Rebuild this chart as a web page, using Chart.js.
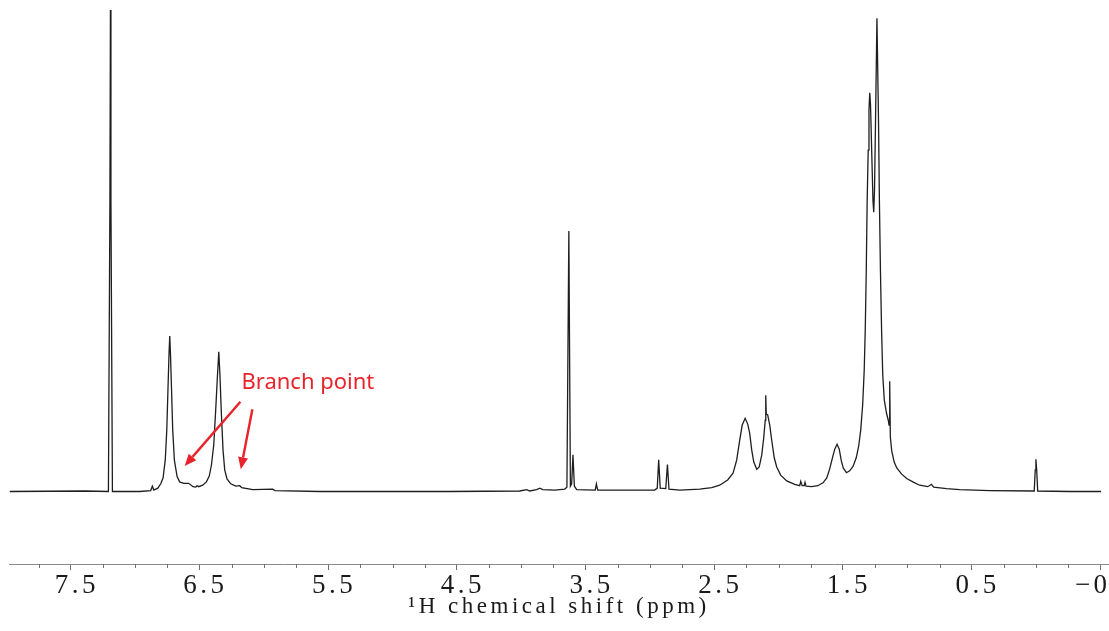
<!DOCTYPE html>
<html>
<head>
<meta charset="utf-8">
<script src="https://cdn.jsdelivr.net/npm/chart.js@4.4.1/dist/chart.umd.min.js"></script>
<style>
  html, body { margin: 0; padding: 0; background: #ffffff; }
  #wrap { width: 1109px; height: 631px; position: relative; }
</style>
</head>
<body>
<div id="wrap"><canvas id="c"></canvas></div>
<script>
// ---- spectrum (chemical shift in ppm, relative intensity; tallest peak = 100) ----
const spectrumPpm = [
  7.974, 7.392, 7.2075, 7.1958, 7.1919, 7.1880, 7.1764,
  6.964, 6.879, 6.866, 6.855, 6.824, 6.801, 6.783, 6.766, 6.754, 6.745, 6.737,
  6.731, 6.725, 6.717, 6.708, 6.695, 6.674, 6.654, 6.622, 6.584, 6.550, 6.529,
  6.519, 6.506, 6.475, 6.446, 6.424, 6.407, 6.389, 6.374, 6.360, 6.350, 6.341,
  6.331, 6.317, 6.304, 6.286, 6.257, 6.218, 6.187, 6.172, 6.086, 5.931, 5.915,
  5.566, 4.556, 4.012, 3.957, 3.934, 3.880, 3.856, 3.833, 3.740, 3.662, 3.645,
  3.630, 3.618, 3.608, 3.598, 3.587, 3.569, 3.425, 3.416, 3.406,
  2.963, 2.943, 2.932, 2.920, 2.877, 2.864, 2.852, 2.768, 2.613, 2.520, 2.458,
  2.396, 2.354, 2.326, 2.302, 2.283, 2.260, 2.240, 2.225, 2.209, 2.193, 2.170,
  2.151, 2.131, 2.116, 2.104, 2.100, 2.096, 2.085, 2.069, 2.054, 2.034, 2.015,
  1.984, 1.937, 1.875, 1.836, 1.828, 1.817, 1.801, 1.795, 1.787, 1.743, 1.696,
  1.655, 1.626, 1.603, 1.580, 1.564, 1.546, 1.529, 1.514, 1.498, 1.473, 1.448,
  1.422, 1.397, 1.378, 1.362, 1.347, 1.335, 1.327, 1.319, 1.312, 1.304, 1.298,
  1.292, 1.286, 1.277, 1.267, 1.261, 1.255, 1.247, 1.236, 1.224,
  1.217, 1.209, 1.200, 1.191, 1.179, 1.162, 1.148, 1.142, 1.137, 1.132, 1.121,
  1.102, 1.082, 1.044, 1.005, 0.950, 0.904, 0.841, 0.813, 0.795, 0.696, 0.593,
  0.360, 0.014, 0.006, 0.001, -0.005, -0.013, -0.262, -0.505
];
const spectrumIntensity = [
  0, 0.1, 0, 60.5, 100, 60.5, 0,
  0, 0.2, 1.1, 0.3, 0.7, 1.6, 2.8, 6.5, 12.8, 21.1, 28.3,
  32.3, 28.3, 21.1, 12.8, 6.5, 3.1, 2.0, 1.7, 1.7, 1.0, 0.9,
  1.2, 1.0, 1.3, 2.0, 3.2, 5.5, 9.7, 16.9, 24.2, 29.0, 24.2,
  16.9, 8.6, 4.5, 2.6, 1.6, 1.1, 1.2, 0.8, 0.4, 0.5, 0.2,
  0, 0, 0.1, 0.4, 0.1, 0.4, 0.7, 0.4, 0.3, 0.5, 0.9,
  54.1, 1.1, 1.6, 7.6, 1.1, 0.4, 0.3, 1.6, 0.3,
  0.3, 0.7, 6.6, 0.7, 0.6, 5.6, 0.5, 0.3, 0.5, 0.8, 1.3,
  2.4, 3.8, 6.5, 10.7, 13.8, 15.2, 14.0, 12.1, 8.6, 6.1, 4.6,
  5.1, 7.6, 11.1, 14.8, 20.0, 16.1, 15.9, 13.8, 10.7, 7.0, 5.1,
  3.4, 2.2, 1.5, 1.2, 2.1, 1.2, 1.2, 1.9, 1.1, 1.0, 1.2,
  1.8, 2.8, 4.7, 7.2, 8.8, 9.8, 8.8, 6.5, 4.9, 3.9, 4.3,
  5.2, 7.0, 9.4, 12.8, 18.0, 25.2, 33.5, 46.0, 60.5, 70.9, 79.2,
  82.8, 80.3, 70.9, 60.5, 58.0, 62.6, 77.2, 98.3, 77.2,
  60.5, 46.0, 33.5, 24.2, 19.0, 16.3, 14.8, 13.8, 22.9, 11.3, 8.4,
  6.1, 4.9, 3.6, 2.7, 1.9, 1.3, 1.0, 1.5, 0.9, 0.6, 0.4,
  0.2, 0.1, 4.5, 6.7, 4.5, 0.1, 0, 0
];

// ---- axis ticks ----
const majorTicks = [7.5, 6.5, 5.5, 4.5, 3.5, 2.5, 1.5, 0.5, -0.5];
const tickLabels = ['7.5', '6.5', '5.5', '4.5', '3.5', '2.5', '1.5', '0.5', '\u22120.5'];
const minorTicks = [7.75, 7.25, 7.0, 6.75, 6.25, 6.0, 5.75, 5.25, 5.0, 4.75, 4.25, 4.0,
  3.75, 3.25, 3.0, 2.75, 2.25, 2.0, 1.75, 1.25, 1.0, 0.75, 0.25, 0.0, -0.25];
const axisTitle = '\u00B9H chemical shift (ppm)';

// ---- annotation (ppm, intensity) ----
const annotationText = 'Branch point';
const annotationAnchor = [6.174, 21.2];
const arrowStarts = [[6.182, 18.65], [6.089, 17.07]];
const arrowTips = [[6.615, 5.30], [6.179, 4.61]];

const points = spectrumPpm.map((p, i) => ({ x: p, y: spectrumIntensity[i] }));

const overlay = {
  id: 'overlay',
  beforeDraw(chart) {
    // wide, SimSun-like spacing for the axis texts
    chart.ctx.letterSpacing = '3.5px';
  },
  afterDatasetsDraw(chart) {
    const { ctx, scales: { x, y } } = chart;
    ctx.save();
    ctx.letterSpacing = '0px';
    // minor ticks
    ctx.strokeStyle = '#6e6e6e';
    ctx.lineWidth = 1;
    const top = Math.round(x.top);
    minorTicks.forEach(v => {
      const px = Math.round(x.getPixelForValue(v)) + 0.5;
      ctx.beginPath();
      ctx.moveTo(px, top);
      ctx.lineTo(px, top + 4);
      ctx.stroke();
    });
    // annotation text
    const red = '#e8232b';
    ctx.fillStyle = red;
    ctx.font = '22px "Noto Sans", sans-serif';
    ctx.textAlign = 'left';
    ctx.textBaseline = 'alphabetic';
    ctx.fillText(annotationText, x.getPixelForValue(annotationAnchor[0]), y.getPixelForValue(annotationAnchor[1]));
    // arrows
    ctx.strokeStyle = red;
    ctx.lineWidth = 2.4;
    ctx.lineCap = 'butt';
    arrowStarts.forEach((s, i) => {
      const x0 = x.getPixelForValue(s[0]), y0 = y.getPixelForValue(s[1]);
      const x1 = x.getPixelForValue(arrowTips[i][0]), y1 = y.getPixelForValue(arrowTips[i][1]);
      const ang = Math.atan2(y1 - y0, x1 - x0);
      const headLen = 12, headHalf = 5;
      const bx = x1 - headLen * Math.cos(ang), by = y1 - headLen * Math.sin(ang);
      ctx.beginPath();
      ctx.moveTo(x0, y0);
      ctx.lineTo(bx, by);
      ctx.stroke();
      ctx.beginPath();
      ctx.moveTo(x1, y1);
      ctx.lineTo(bx + headHalf * Math.sin(ang), by - headHalf * Math.cos(ang));
      ctx.lineTo(bx - headHalf * Math.sin(ang), by + headHalf * Math.cos(ang));
      ctx.closePath();
      ctx.fill();
    });
    ctx.restore();
  },
  afterDraw(chart) {
    chart.ctx.letterSpacing = '0px';
  }
};

new Chart(document.getElementById('c'), {
  type: 'line',
  data: {
    datasets: [{
      data: points,
      borderColor: '#1e1e1e',
      borderWidth: 1.3,
      pointRadius: 0,
      tension: 0,
      fill: false
    }]
  },
  options: {
    responsive: true,
    maintainAspectRatio: false,
    animation: false,
    events: [],
    layout: { padding: { left: 9, right: 0, top: 0, bottom: 0 } },
    plugins: { legend: { display: false }, tooltip: { enabled: false } },
    scales: {
      x: {
        type: 'linear',
        reverse: true,
        min: -0.567,
        max: 7.98,
        afterBuildTicks: (scale) => { scale.ticks = majorTicks.map(v => ({ value: v })); },
        afterFit: (scale) => { scale.paddingLeft = 0; scale.paddingRight = 0; scale.height = 67; },
        grid: { display: true, drawOnChartArea: false, drawTicks: true, tickLength: 6, color: '#6e6e6e', lineWidth: 1 },
        border: { display: true, color: '#8a8a8a', width: 1 },
        ticks: {
          autoSkip: false,
          maxRotation: 0,
          minRotation: 0,
          padding: 0,
          labelOffset: 6,
          color: '#1a1a1a',
          font: { family: '"Liberation Serif", serif', size: 27 },
          callback: (v, i) => tickLabels[i]
        },
        title: {
          display: true,
          text: axisTitle,
          color: '#1a1a1a',
          font: { family: '"Liberation Serif", serif', size: 23 },
          padding: { top: 0, bottom: 10 }
        }
      },
      y: {
        type: 'linear',
        display: false,
        min: -15.06,
        max: 102.08
      }
    }
  },
  plugins: [overlay]
});
</script>
</body>
</html>
